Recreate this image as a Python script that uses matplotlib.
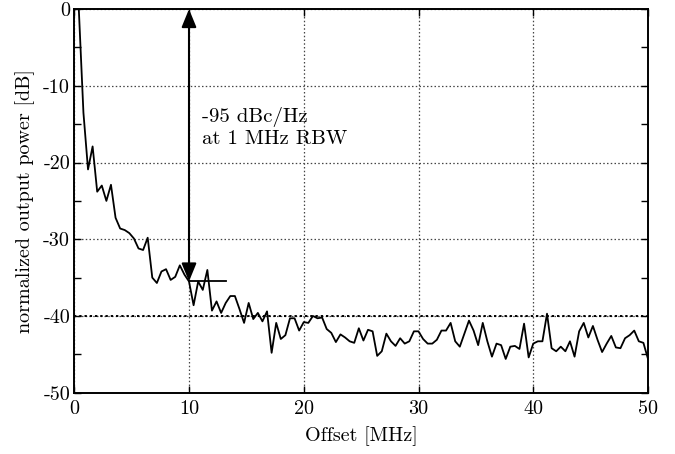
import numpy as np
import matplotlib
matplotlib.use("Agg")
import matplotlib.pyplot as plt
from matplotlib.ticker import FixedLocator, FixedFormatter, MultipleLocator

plt.rcParams['font.family'] = ['cmr10', 'DejaVu Serif']
plt.rcParams['axes.unicode_minus'] = False

# Spectrum samples: offset frequency (MHz) every 0.4 MHz
offset_mhz = np.linspace(0.4, 50.0, 125)
power_db = [
    -0.1, -13.5, -20.9, -17.9, -23.8, -23.0, -25.0, -22.9, -27.2, -28.6,
    -28.8, -29.2, -29.9, -31.2, -31.4, -29.8, -35.0, -35.7, -34.2, -33.9,
    -35.3, -34.9, -33.4, -34.6, -35.5, -38.6, -35.5, -36.6, -34.0, -39.3,
    -38.1, -39.6, -38.3, -37.4, -37.4, -39.1, -40.9, -38.3, -40.4, -39.6,
    -40.7, -39.4, -44.8, -40.9, -43.0, -42.5, -40.3, -40.3, -41.9, -40.8,
    -40.9, -40.0, -40.3, -40.2, -41.7, -42.2, -43.4, -42.4, -42.8, -43.3,
    -43.5, -41.6, -43.2, -41.8, -42.0, -45.2, -44.6, -42.3, -43.3, -43.9,
    -42.9, -43.6, -43.3, -42.0, -42.0, -43.0, -43.6, -43.6, -43.1, -41.9,
    -41.9, -40.9, -43.3, -44.0, -42.3, -40.6, -41.9, -43.8, -40.9, -43.3,
    -45.3, -43.6, -43.8, -45.6, -44.0, -43.9, -44.3, -41.0, -45.4, -43.6,
    -43.3, -43.3, -39.7, -44.2, -44.6, -44.0, -44.6, -43.3, -45.3, -42.0,
    -40.9, -42.8, -41.3, -43.1, -44.7, -43.6, -42.6, -44.1, -44.2, -42.9,
    -42.5, -41.9, -43.3, -43.5, -45.6,
]

x_ticks = [0, 10, 20, 30, 40, 50]
x_tick_labels = ['0', '10', '20', '30', '40', '50']
y_ticks = [-50, -40, -30, -20, -10, 0]
y_tick_labels = ['-50', '-40', '-30', '-20', '-10', '0']

noise_floor_db = -40
marker_offset = 10
marker_level_db = -35.5
marker_end = 13.2
annotation_lines = "-95 dBc/Hz\nat 1 MHz RBW"

FS = 14.5

fig = plt.figure(figsize=(6.75, 4.54), dpi=100)
ax = fig.add_axes([0.110, 0.135, 0.850, 0.845])

ax.set_xlim(0, 50)
ax.set_ylim(-50, 0)

ax.xaxis.set_major_locator(FixedLocator(x_ticks))
ax.xaxis.set_major_formatter(FixedFormatter(x_tick_labels))
ax.yaxis.set_major_locator(FixedLocator(y_ticks))
ax.yaxis.set_major_formatter(FixedFormatter(y_tick_labels))
ax.yaxis.set_minor_locator(MultipleLocator(5))

ax.grid(True, which='major', linestyle=(0, (1.2, 1.8)), color='#444444', linewidth=0.9)
ax.tick_params(which='both', direction='in', top=True, right=True,
               labelsize=FS, width=1.0, colors='black')
ax.tick_params(axis='x', pad=5)
ax.tick_params(axis='y', pad=3)
ax.tick_params(which='major', length=5)
ax.tick_params(which='minor', length=5)
for s in ax.spines.values():
    s.set_linewidth(1.4)

# Noise-floor reference line
ax.axhline(noise_floor_db, color='black', linestyle=(0, (1.2, 1.5)), linewidth=1.4, zorder=2)

ax.plot(offset_mhz, power_db, color='black', linewidth=1.3, zorder=3)

# Double-headed arrow from carrier level to the noise level
ax.annotate('', xy=(marker_offset, marker_level_db), xytext=(marker_offset, 0),
            arrowprops=dict(arrowstyle='<|-|>,head_length=1.1,head_width=0.45',
                            color='black', linewidth=1.5, shrinkA=0, shrinkB=0),
            zorder=4, annotation_clip=False)
ax.plot([marker_offset, marker_end], [marker_level_db, marker_level_db],
        color='black', linewidth=1.3, zorder=4)

ax.text(11.1, -12.7, annotation_lines, fontsize=15, va='top', ha='left',
        linespacing=1.25)

ax.set_xlabel('Offset [MHz]', fontsize=FS, labelpad=6)
ax.set_ylabel('normalized output power [dB]', fontsize=FS, labelpad=6)

fig.savefig('out.png', dpi=100)
